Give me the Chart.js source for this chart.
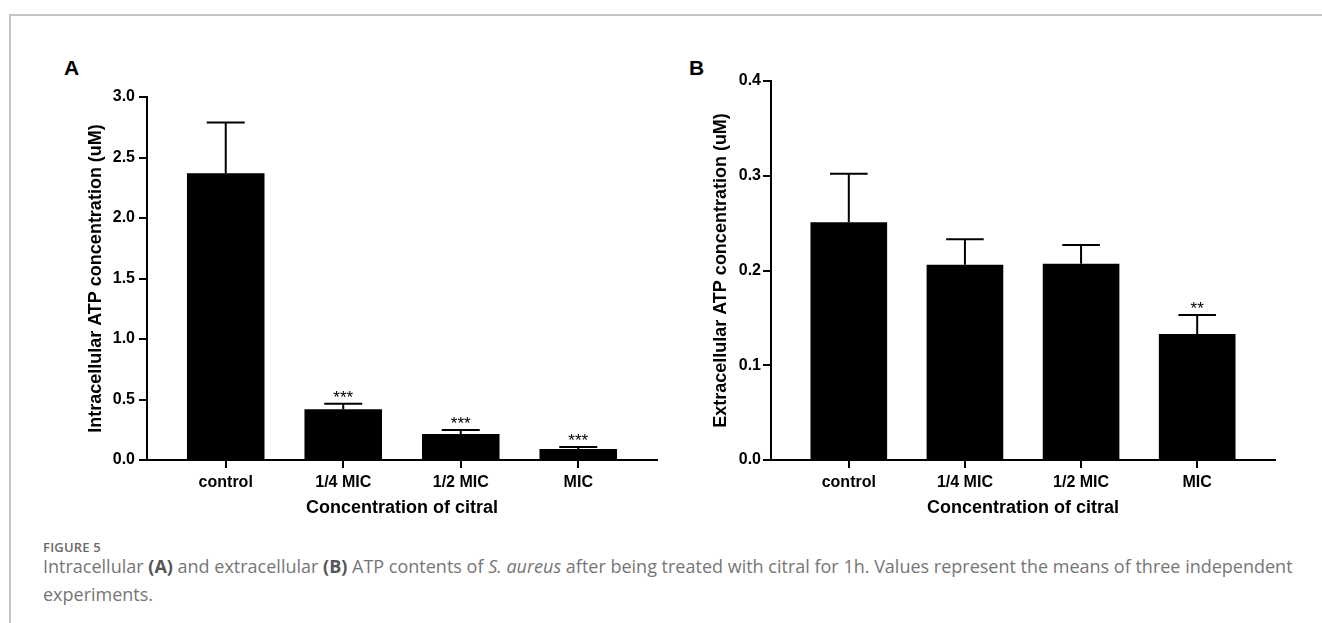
<!DOCTYPE html>
<html>
<head>
<meta charset="utf-8">
<script src="https://cdn.jsdelivr.net/npm/chart.js@4.4.1/dist/chart.umd.min.js"></script>
<style>
    body {
        margin: 0;
        width: 1322px;
        height: 623px;
        background: #fff;
        position: relative;
        overflow: hidden;
        font-family: "Liberation Sans", Arial, sans-serif;
    }
    .frame {
        position: absolute;
        left: 9px;
        top: 14px;
        width: 1313px;
        height: 609px;
        border-left: 2px solid #c6c6c6;
        border-top: 2px solid #c6c6c6;
        box-sizing: border-box;
    }
    canvas { position: absolute; top: 0; }
    #chartA { left: 0; }
    #chartB { left: 660px; }
    .panel {
        position: absolute;
        font: bold 21px "Liberation Sans", Arial, sans-serif;
        line-height: 1;
        color: #000;
    }
    .figlabel {
        position: absolute;
        left: 43px;
        top: 539px;
        font: 600 13px "Open Sans", sans-serif;
        line-height: 16px;
        letter-spacing: 0.2px;
        color: #6a6a6a;
    }
    .caption {
        position: absolute;
        left: 43px;
        top: 552px;
        font: 18px "Open Sans", sans-serif;
        line-height: 28px;
        color: #767676;
        white-space: nowrap;
    }
    .caption b { color: #555; }
</style>
</head>
<body>
<div class="frame"></div>
<div class="panel" style="left:64px; top:57px;">A</div>
<div class="panel" style="left:689px; top:57px;">B</div>
<canvas id="chartA" width="661" height="530"></canvas>
<canvas id="chartB" width="640" height="530"></canvas>
<div class="figlabel">FIGURE 5</div>
<div class="caption">Intracellular <b>(A)</b> and extracellular <b>(B)</b> ATP contents of <i>S. aureus</i> after being treated with citral for 1h. Values represent the means of three independent<br>experiments.</div>

<script>
    const categories = ['control', '1/4 MIC', '1/2 MIC', 'MIC'];
    const xTitle = 'Concentration of citral';

    // panel A - intracellular
    const meanA = [2.37, 0.42, 0.215, 0.09];
    const sdA = [0.42, 0.045, 0.033, 0.017];
    const starsA = ['', '***', '***', '***'];
    const yTicksA = [0, 0.5, 1.0, 1.5, 2.0, 2.5, 3.0];

    // panel B - extracellular
    const meanB = [0.251, 0.206, 0.207, 0.133];
    const sdB = [0.051, 0.027, 0.020, 0.020];
    const starsB = ['', '', '', '**'];
    const yTicksB = [0, 0.1, 0.2, 0.3, 0.4];

    const tickFont = {family: '"Liberation Sans", Arial, sans-serif', size: 16, weight: 'bold'};
    const titleFont = {family: '"Liberation Sans", Arial, sans-serif', size: 18, weight: 'bold'};

    function errorBars(sds, stars) {
        return {
            id: 'errorBars',
            afterDatasetsDraw(chart) {
                const ctx = chart.ctx;
                const yScale = chart.scales.y;
                const meta = chart.getDatasetMeta(0);
                const data = chart.data.datasets[0].data;
                ctx.save();
                ctx.strokeStyle = '#000';
                ctx.lineWidth = 2;
                meta.data.forEach(function (bar, i) {
                    const top = yScale.getPixelForValue(data[i].y + sds[i]);
                    const half = bar.width * 0.245;
                    ctx.beginPath();
                    ctx.moveTo(bar.x, bar.y);
                    ctx.lineTo(bar.x, top);
                    ctx.moveTo(bar.x - half, top);
                    ctx.lineTo(bar.x + half, top);
                    ctx.stroke();
                    if (stars[i]) {
                        ctx.font = '17px "Liberation Sans", Arial, sans-serif';
                        ctx.fillStyle = '#000';
                        ctx.textAlign = 'center';
                        ctx.textBaseline = 'alphabetic';
                        ctx.fillText(stars[i], bar.x, top - 1);
                    }
                });
                ctx.restore();
            }
        };
    }

    function drawPanel(canvasId, means, sds, stars, yTicks, yTitle, box) {
        const ctx = document.getElementById(canvasId).getContext('2d');
        const points = means.map((m, i) => ({x: i, y: m}));
        const margin = 0.67;

        new Chart(ctx, {
            type: 'bar',
            data: {
                datasets: [{
                    data: points,
                    backgroundColor: '#000',
                    borderWidth: 0,
                    barPercentage: 0.66,
                    categoryPercentage: 1
                }]
            },
            options: {
                responsive: false,
                animation: false,
                layout: {padding: {left: box.padLeft, top: box.padTop, right: box.padRight, bottom: 0}},
                plugins: {legend: {display: false}, tooltip: {enabled: false}},
                scales: {
                    x: {
                        type: 'linear',
                        offset: false,
                        min: -margin,
                        max: categories.length - 1 + margin,
                        afterBuildTicks: s => { s.ticks = categories.map((c, i) => ({value: i})); },
                        afterFit: s => { s.height = box.xHeight; },
                        ticks: {
                            callback: v => categories[v],
                            color: '#000', font: tickFont, padding: 5,
                            maxRotation: 0, autoSkip: false
                        },
                        grid: {offset: false, drawOnChartArea: false, tickLength: 8, color: '#000', lineWidth: 2},
                        border: {color: '#000', width: 2},
                        title: {display: true, text: xTitle, color: '#000', font: titleFont, padding: {top: 0, bottom: 11}}
                    },
                    y: {
                        min: yTicks[0],
                        max: yTicks[yTicks.length - 1],
                        afterBuildTicks: s => { s.ticks = yTicks.map(v => ({value: v})); },
                        afterFit: s => { s.width = box.yWidth; },
                        ticks: {
                            callback: v => v.toFixed(1),
                            color: '#000', font: tickFont, padding: box.yPad
                        },
                        grid: {drawOnChartArea: false, tickLength: 8, color: '#000', lineWidth: 2},
                        border: {color: '#000', width: 2},
                        title: {display: true, text: yTitle, color: '#000', font: titleFont, padding: 0}
                    }
                }
            },
            plugins: [errorBars(sds, stars)]
        });
    }

    drawPanel('chartA', meanA, sdA, starsA, yTicksA, 'Intracellular ATP concentration (uM)',
        {padLeft: 85, padTop: 97, padRight: 4, yWidth: 62, xHeight: 70, yPad: 4});
    drawPanel('chartB', meanB, sdB, starsB, yTicksB, 'Extracellular ATP concentration (uM)',
        {padLeft: 50, padTop: 81, padRight: 25, yWidth: 61, xHeight: 70, yPad: 2});
</script>
</body>
</html>
